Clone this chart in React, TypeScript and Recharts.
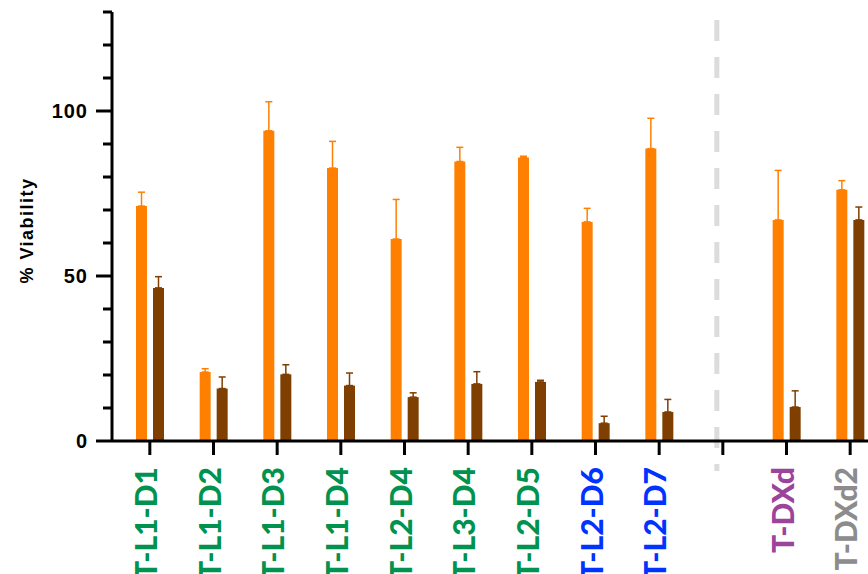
import React from 'react'
import { ComposedChart, Bar, XAxis, YAxis, ErrorBar, ReferenceLine } from 'recharts'

// conjugates along the x axis; the blank entry leaves the gap before the reference drugs
const conjugates = ['T-L1-D1', 'T-L1-D2', 'T-L1-D3', 'T-L1-D4', 'T-L2-D4', 'T-L3-D4', 'T-L2-D5', 'T-L2-D6', 'T-L2-D7', ' ', 'T-DXd', 'T-DXd2']
const labelColors = ['#00924f', '#00924f', '#00924f', '#00924f', '#00924f', '#00924f', '#00924f', '#0033ff', '#0033ff', '#ffffff', '#9b449b', '#8c8c8c']

const orangeMean = [71.2, 20.9, 94.0, 82.7, 61.2, 84.7, 85.9, 66.4, 88.6, null, 67.0, 76.1]
const orangeSd = [4.2, 1.0, 8.8, 8.1, 12.0, 4.3, 0.4, 4.1, 9.2, null, 15.0, 2.8]
const brownMean = [46.4, 15.9, 20.2, 16.8, 13.3, 17.3, 17.9, 5.4, 8.8, null, 10.3, 67.0]
const brownSd = [3.4, 3.5, 2.9, 3.8, 1.3, 3.7, 0.5, 2.1, 3.8, null, 4.9, 3.9]

const yTicks = [0, 10, 20, 30, 40, 50, 60, 70, 80, 90, 100, 110, 120, 130]
const yLabelled = [0, 50, 100]

const ORANGE = '#ff8000'
const BROWN = '#7f3f00'

const data = conjugates.map((name, i) => ({
  name,
  color: labelColors[i],
  orange: orangeMean[i],
  orangeErr: orangeSd[i] == null ? null : [0, orangeSd[i]],
  brown: brownMean[i],
  brownErr: brownSd[i] == null ? null : [0, brownSd[i]],
}))

const XTick = (props: any) => {
  const { x, y, index } = props
  const row = data[index]
  return (
    <g transform={`translate(${x},${y + 10}) rotate(-90)`}>
      <text x={0} y={7} textAnchor="end" fill={row.color}
        style={{ fontFamily: 'Lato, sans-serif', fontWeight: 900, fontSize: 30 }}>
        {row.name}
      </text>
    </g>
  )
}

const YTick = (props: any) => {
  const { x, y, payload } = props
  const major = yLabelled.includes(payload.value)
  return (
    <g>
      <line x1={x - (major ? 16 : 9)} x2={x} y1={y} y2={y} stroke="#000" strokeWidth={3} />
      {major && (
        <text x={x - 24} y={y} dy={7} textAnchor="end" fill="#000"
          style={{ fontFamily: '"Liberation Sans", Arial, sans-serif', fontWeight: 700, fontSize: 20, letterSpacing: 1 }}>
          {payload.value}
        </text>
      )}
    </g>
  )
}

const YTitle = (props: any) => {
  const { viewBox } = props
  const cx = viewBox.x + 27
  const cy = viewBox.y + viewBox.height / 2 + 4
  return (
    <text x={cx} y={cy} transform={`rotate(-90, ${cx}, ${cy})`} textAnchor="middle" dominantBaseline="central"
      fill="#000" style={{ fontFamily: '"Liberation Sans", Arial, sans-serif', fontWeight: 700, fontSize: 18, letterSpacing: 1.5 }}>
      % Viability
    </text>
  )
}

// grey dashed divider between the conjugates and the reference drugs,
// drawn top-down so the dash pattern starts just under the plot top
const Divider = (props: any) => {
  const { x1, y1, y2 } = props
  const top = Math.min(y1, y2)
  const bottom = Math.max(y1, y2)
  return (
    <line x1={x1 - 6} x2={x1 - 6} y1={top + 8} y2={bottom + 30} stroke="#dcdcdc" strokeWidth={5} strokeDasharray="21 16" />
  )
}

export default function App() {
  return (
    <div style={{ position: 'fixed', top: 0, left: 0, width: 868, height: 574, overflow: 'hidden', background: '#fff' }}>
      <ComposedChart width={900} height={574} data={data} margin={{ top: 12, right: 18, bottom: 0, left: 0 }}
        barSize={11} barGap={6}>
        <XAxis dataKey="name" interval={0} height={133} padding={{ left: 6, right: 0 }}
          axisLine={{ stroke: '#000', strokeWidth: 3 }} tickLine={{ stroke: '#000', strokeWidth: 3 }}
          tickSize={14} tick={<XTick />} />
        <YAxis type="number" domain={[0, 130]} ticks={yTicks} interval={0} width={112}
          axisLine={{ stroke: '#000', strokeWidth: 3 }} tickLine={false} tickSize={0} tickMargin={0}
          tick={<YTick />} label={<YTitle />} />
        <ReferenceLine x=" " ifOverflow="visible" shape={<Divider />} />
        <Bar dataKey="orange" fill={ORANGE} isAnimationActive={false}>
          <ErrorBar dataKey="orangeErr" direction="y" width={3.5} stroke={ORANGE} strokeWidth={1.5} />
        </Bar>
        <Bar dataKey="brown" fill={BROWN} isAnimationActive={false}>
          <ErrorBar dataKey="brownErr" direction="y" width={3.5} stroke={BROWN} strokeWidth={1.5} />
        </Bar>
      </ComposedChart>
    </div>
  )
}
